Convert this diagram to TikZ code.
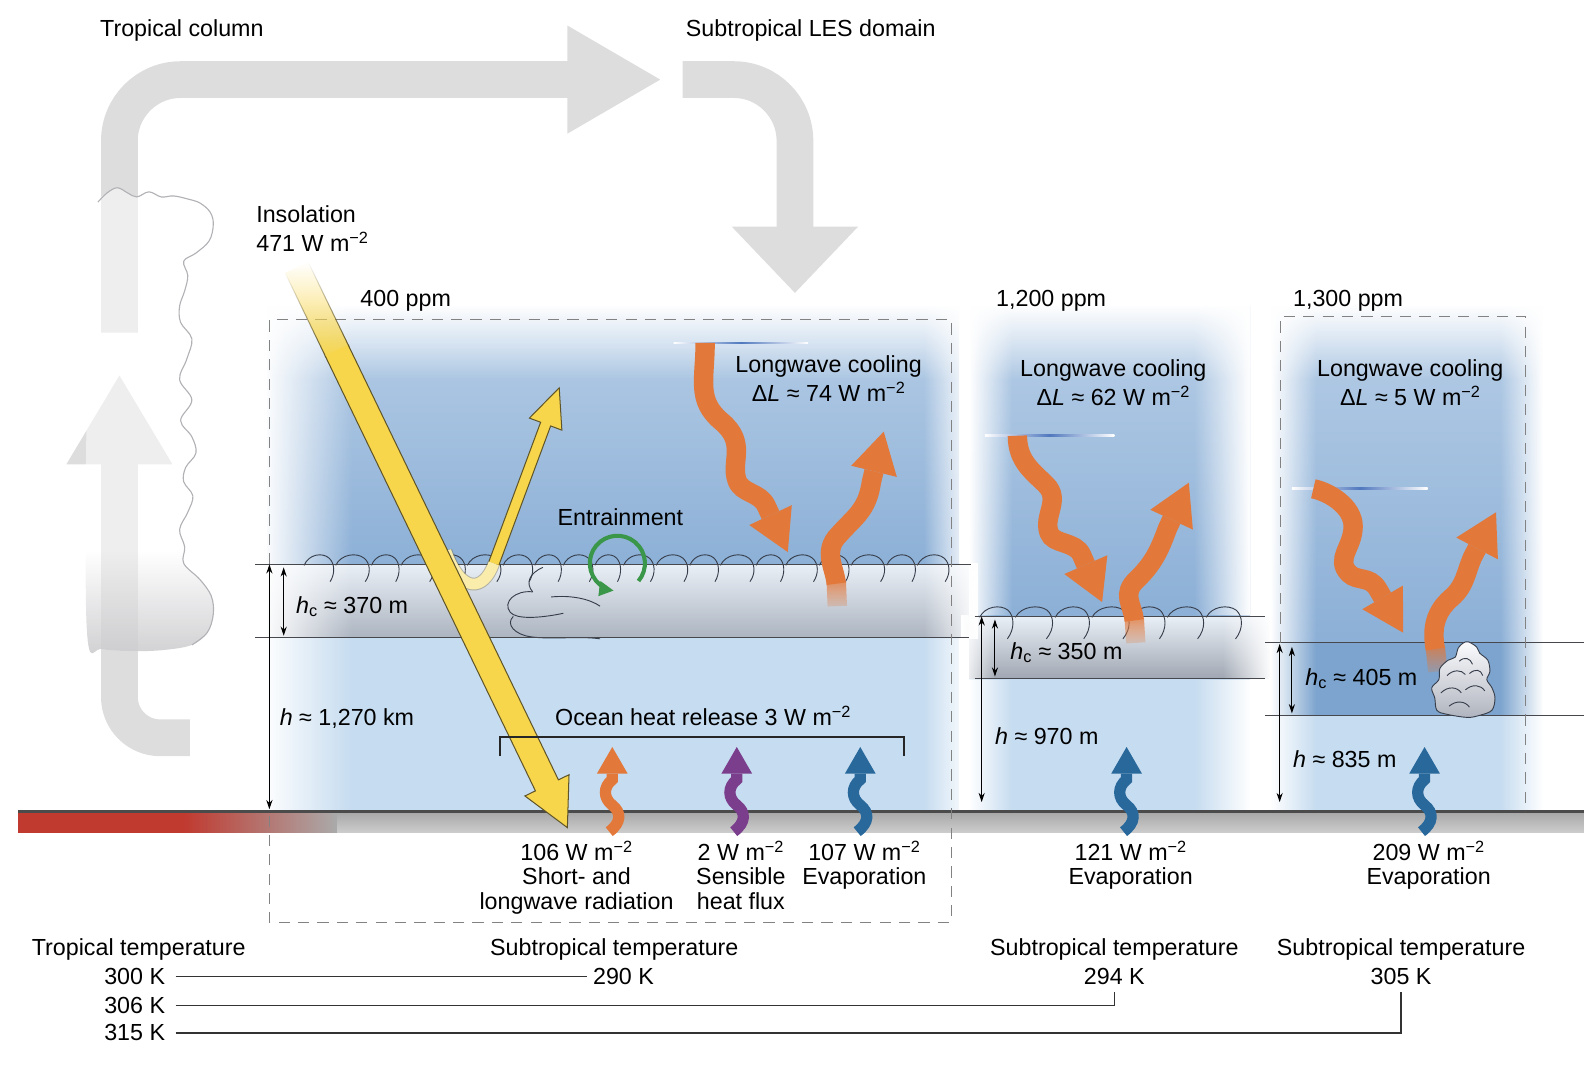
\documentclass[tikz,border=0pt]{standalone}
\usepackage{fontspec}
\setmainfont{Liberation Sans}
\usetikzlibrary{arrows.meta,fadings}

\definecolor{ctop}{RGB}{204,221,239}
\definecolor{cmid}{RGB}{118,160,206}
\definecolor{clow}{RGB}{198,220,240}
\definecolor{clay}{RGB}{124,164,206}
\definecolor{cltop}{RGB}{233,239,246}
\definecolor{clmid}{RGB}{221,228,237}
\definecolor{clbot}{RGB}{172,180,192}
\definecolor{clbotB}{RGB}{160,167,178}
\definecolor{lworange}{RGB}{226,120,58}
\definecolor{hfpurple}{RGB}{122,62,140}
\definecolor{evblue}{RGB}{40,104,155}
\definecolor{sunyel}{RGB}{248,214,76}
\definecolor{sunpale}{RGB}{250,236,170}
\definecolor{sunedge}{RGB}{95,85,40}
\definecolor{loopgray}{RGB}{221,221,221}
\definecolor{groundred}{RGB}{192,58,48}
\definecolor{groundA}{RGB}{170,170,170}
\definecolor{groundB}{RGB}{205,205,205}
\definecolor{groundline}{RGB}{75,75,75}
\definecolor{entgreen}{RGB}{58,150,72}
\definecolor{cloudline}{RGB}{55,62,75}
\definecolor{layergray}{RGB}{70,72,78}
\definecolor{dashgray}{RGB}{130,130,130}
\definecolor{toplineblue}{RGB}{80,120,190}
\definecolor{tcloudline}{RGB}{178,178,182}
\definecolor{tcloudshade}{RGB}{196,196,199}
\definecolor{cumtop}{RGB}{252,252,254}
\definecolor{cummid}{RGB}{226,230,236}
\definecolor{cumbot}{RGB}{175,180,190}

\tikzfading[name=fadeinR, left color=transparent!100, right color=transparent!0]
\tikzfading[name=fadeoutR, left color=transparent!0, right color=transparent!100]
\tikzfading[name=fadeoutD, top color=transparent!0, bottom color=transparent!100]
\tikzfading[name=fadeinD, top color=transparent!100, bottom color=transparent!0]

\newcommand{\Wmm}{W~m\textsuperscript{−2}}
\newcommand{\hcsub}{\textit{h}\textsubscript{c}}

\begin{document}
\begin{tikzpicture}[x=1pt,y=-1pt,
  txt/.style={font=\fontsize{22.8}{26}\selectfont, inner sep=0pt},
  lwarrow/.style={draw=lworange, line width=19pt, -{Triangle[width=46pt,length=40pt,line width=0pt]}},
  lwbase/.style={draw=lworange, line width=19pt, path fading=fadeoutD, fit fading=true},
  fluxarrow/.style={line width=11pt, -{Triangle[width=30pt,length=26pt,line width=0pt]}},
  harrow/.style={line width=1pt, {Stealth[length=9pt,width=6pt]}-{Stealth[length=9pt,width=6pt]}},
  boxdash/.style={draw=dashgray, line width=1.1pt, dash pattern=on 11pt off 8pt},
  layerline/.style={draw=layergray, line width=1.1pt},
  scallop/.style={draw=cloudline, line width=0.9pt},
  templine/.style={draw=black!80, line width=1.4pt},
  loopbar/.style={draw=loopgray, line width=36pt},
  fadeL/.style={path fading=fadeoutR, fit fading=true},
  fadeR/.style={path fading=fadeinR, fit fading=true},
  fadeT/.style={path fading=fadeoutD, fit fading=true},
  fadeB/.style={path fading=fadeinD, fit fading=true},
]
\useasboundingbox (0,0) rectangle (1564,1047);

% ---------------- columns ----------------
\begin{scope}\clip (262,300) rectangle (940,560);
  \shade[top color=ctop, bottom color=cmid] (262,170) rectangle (940,690);
\end{scope}
\fill[cmid] (262,553) rectangle (940,625);
\fill[clow] (262,625) rectangle (940,797);

\begin{scope}\clip (950,300) rectangle (1225,606);
  \shade[top color=ctop, bottom color=cmid] (950,147) rectangle (1225,759);
\end{scope}
\fill[cmid] (950,604) rectangle (1225,665);
\fill[clow] (950,665) rectangle (1225,797);

\begin{scope}\clip (1245,300) rectangle (1512,632);
  \shade[top color=ctop, bottom color=cmid] (1245,134) rectangle (1512,798);
\end{scope}
\fill[clay] (1245,630) rectangle (1512,701);
\fill[clow] (1245,701) rectangle (1512,797);

% ---------------- cloud bands ----------------
\shade[top color=cltop, middle color=clmid, bottom color=clbot] (262,553) rectangle (958,625);
\shade[top color=cltop, middle color=clmid, bottom color=clbotB] (950,604) rectangle (1244,665);

% edge fades (columns and cloud bands)
\fill[white, fadeL] (258,290) rectangle (345,800);
\fill[white, fadeR] (905,290) rectangle (950,552);
\fill[white, fadeR] (905,626) rectangle (950,800);
\fill[white, fadeR] (905,552) rectangle (958,626);
\fill[white, fadeT] (258,298) rectangle (950,372);
\fill[white, fadeL] (950,290) rectangle (992,603);
\fill[white, fadeL] (950,666) rectangle (992,800);
\fill[white, fadeL] (942,603) rectangle (976,666);
\fill[white, fadeR] (1170,290) rectangle (1225,603);
\fill[white, fadeR] (1170,666) rectangle (1225,800);
\fill[white, fadeR] (1198,603) rectangle (1246,666);
\fill[white, fadeT] (950,298) rectangle (1225,372);
\fill[white, fadeL] (1245,290) rectangle (1290,800);
\fill[white, fadeR] (1470,290) rectangle (1512,800);
\fill[white, fadeT] (1240,298) rectangle (1512,372);

% scallops
\foreach \x/\w in {298/30, 329/34, 364/28, 393/33, 427/30, 458/34, 493/30, 524/27, 552/30, 583/26, 611/31, 643/32, 676/29, 706/34, 741/28, 770/32, 803/30, 834/34, 869/29, 899/32}
  \draw[scallop] (\x,554) .. controls (\x+0.15*\w,543) and (\x+0.6*\w,541) .. (\x+0.82*\w,547) .. controls (\x+1.0*\w,552) and (\x+1.02*\w,562) .. (\x+0.85*\w,570);
\foreach \x/\w in {960/34, 995/38, 1034/35, 1070/38, 1109/34, 1144/37, 1182/36}
  \draw[scallop] (\x,605) .. controls (\x+0.15*\w,594) and (\x+0.6*\w,592) .. (\x+0.82*\w,598) .. controls (\x+1.0*\w,604) and (\x+1.02*\w,616) .. (\x+0.8*\w,626);
% interior lobes
\draw[scallop] (532,556) .. controls (518,562) and (515,572) .. (522,580);
\draw[scallop] (522,580) .. controls (505,578) and (492,590) .. (500,600) .. controls (506,607) and (528,606) .. (552,601);
\draw[scallop] (540,585) .. controls (560,583) and (578,587) .. (588,594);
\draw[scallop] (503,604) .. controls (495,612) and (505,622) .. (520,624) .. controls (542,627) and (566,623) .. (588,626);

% layer lines
\draw[layerline] (250,553) -- (952,553);
\draw[layerline] (250,625) -- (950,625);
\draw[layerline] (955,604) -- (1240,604);
\draw[layerline] (955,665) -- (1240,665);
\draw[layerline] (1240,630) -- (1552,630);
\draw[layerline] (1240,701) -- (1552,701);

% ---------------- ground ----------------
\shade[top color=groundA, bottom color=groundB] (18,797) rectangle (1552,816);
\fill[groundred] (18,797) rectangle (200,816);
\shade[left color=groundred, right color=groundA] (180,797) rectangle (330,816);
\draw[line width=3pt, groundline] (18,795) -- (1552,795);

% ---------------- big gray loop ----------------
\draw[loopbar, rounded corners=60pt] (117,326) -- (117,78) -- (557,78);
\fill[loopgray] (556,25) -- (647,78) -- (556,131) -- cycle;
\draw[loopbar, rounded corners=60pt] (669,78) -- (779,78) -- (779,223);
\fill[loopgray] (717,222) -- (841,222) -- (779,287) -- cycle;
\draw[loopbar, rounded corners=40pt] (186,723) -- (117,723) -- (117,454);
\fill[loopgray] (65,455) -- (169,455) -- (117,368) -- cycle;

% tropical cloud
\fill[white, opacity=0.5] plot[smooth cycle, tension=0.6] coordinates {(96,198) (105,189) (115,184) (125,189) (134,193) (146,188) (158,193) (170,192) (184,195) (196,199) (206,208) (209,220) (205,236) (192,248) (180,256) (184,270) (181,285) (176,300) (177,316) (188,332) (183,352) (176,372) (188,392) (177,412) (188,428) (192,444) (182,458) (180,472) (189,486) (184,502) (176,519) (181,536) (180,552) (196,568) (207,584) (209,602) (203,620) (188,632) (160,637) (130,638) (100,636) (86,628) (84,500) (86,350) (90,230)};
\begin{scope}
  \clip plot[smooth cycle, tension=0.6] coordinates {(96,198) (105,189) (115,184) (125,189) (134,193) (146,188) (158,193) (170,192) (184,195) (196,199) (206,208) (209,220) (205,236) (192,248) (180,256) (184,270) (181,285) (176,300) (177,316) (188,332) (183,352) (176,372) (188,392) (177,412) (188,428) (192,444) (182,458) (180,472) (189,486) (184,502) (176,519) (181,536) (180,552) (196,568) (207,584) (209,602) (203,620) (188,632) (160,637) (130,638) (100,636) (86,628) (84,500) (86,350) (90,230)};
  \fill[tcloudshade, opacity=0.8, fadeB] (80,540) rectangle (215,645);
\end{scope}
\draw[tcloudline, line width=1.1pt] plot[smooth, tension=0.6] coordinates {(96,198) (105,189) (115,184) (125,189) (134,193) (146,188) (158,193) (170,192) (184,195) (196,199) (206,208) (209,220) (205,236) (192,248) (180,256) (184,270) (181,285) (176,300) (177,316) (188,332) (183,352) (176,372) (188,392) (177,412) (188,428) (192,444) (182,458) (180,472) (189,486) (184,502) (176,519) (181,536) (180,552) (196,568) (207,584) (209,602) (203,620) (188,632)};

% ---------------- dashed boxes ----------------
\draw[boxdash] (264,553) -- (264,313) -- (932,313) -- (932,904) -- (264,904) -- (264,800);
\draw[boxdash] (1255,630) -- (1255,310) -- (1495,310) -- (1495,795);

% ---------------- top blue lines ----------------
\shade[left color=white, right color=white, middle color=toplineblue] (660,335.2) rectangle (792,336.8);
\shade[left color=white, right color=white, middle color=toplineblue] (965,426.2) rectangle (1092,427.8);
\shade[left color=white, right color=white, middle color=toplineblue] (1266,478.2) rectangle (1399,479.8);

% ---------------- longwave arrows ----------------
\draw[lwarrow] (691,336) .. controls (691,372) and (682,392) .. (707,413) .. controls (732,434) and (716,452) .. (722,470) .. controls (726,484) and (745,482) .. (751,496) -- (772,541);
\draw[lwbase] (820.5,594) -- (819.5,570);
\draw[lwarrow] (819.5,572) .. controls (818,556) and (806,540) .. (822,524) .. controls (838,506) and (850,500) .. (854,472) -- (866,423);

\draw[lwarrow] (997,427) .. controls (997,452) and (1012,462) .. (1025,475) .. controls (1040,490) and (1022,505) .. (1028,522) .. controls (1032,534) and (1054,530) .. (1060,544) -- (1080,590);
\draw[lwbase] (1113,630) -- (1111.5,606);
\draw[lwarrow] (1111.5,608) .. controls (1110,592) and (1098,582) .. (1115,567) .. controls (1130,552) and (1136,540) .. (1144,518) -- (1165,473);

\draw[lwarrow] (1287,479) .. controls (1302,482) and (1326,496) .. (1326,516) .. controls (1326,536) and (1308,548) .. (1322,562) .. controls (1330,570) and (1342,564) .. (1350,577) -- (1375,620);
\draw[lwbase] (1409,658) -- (1406.5,634);
\draw[lwarrow] (1406.5,636) .. controls (1403,616) and (1406,600) .. (1422,586) .. controls (1436,574) and (1436,562) .. (1443,546) -- (1466,502);

% cumulus
\shade[top color=cumtop, middle color=cummid, bottom color=cumbot, draw=cloudline, line width=0.9pt] plot[smooth cycle, tension=0.55] coordinates {(1439,629) (1447,634) (1450,640) (1458,647) (1460,658) (1457,666) (1462,674) (1465,684) (1462,696) (1450,701) (1438,703) (1418,700) (1408,696) (1406,684) (1403,674) (1410,666) (1411,655) (1419,647) (1426,644) (1429,635) (1434,630)};
\draw[scallop] (1418,662) .. controls (1424,656) and (1432,656) .. (1436,661);
\draw[scallop] (1430,648) .. controls (1435,643) and (1441,645) .. (1443,651);
\draw[scallop] (1440,660) .. controls (1446,655) and (1451,656) .. (1453,662);
\draw[scallop] (1412,679) .. controls (1419,672) and (1428,673) .. (1432,679);
\draw[scallop] (1436,676) .. controls (1443,670) and (1451,671) .. (1455,677);
\draw[scallop] (1420,692) .. controls (1427,686) and (1436,687) .. (1440,693);

% ---------------- reflected sunlight ----------------
\draw[line width=12.5pt, sunedge, opacity=0.35] (437,540) .. controls (452,582) and (474,580) .. (484,552);
\draw[line width=10.5pt, sunpale] (437,540) .. controls (452,582) and (474,580) .. (484,552);
\fill[sunyel] (479.1,550.2) -- (529.8,413.8) -- (518.8,409.7) -- (548,380) -- (550.6,421.5) -- (539.6,417.4) -- (488.9,553.8) -- cycle;
\draw[sunedge, line width=1pt, line join=miter] (479.1,550.2) -- (529.8,413.8) -- (518.8,409.7) -- (548,380) -- (550.6,421.5) -- (539.6,417.4) -- (488.9,553.8);

% ---------------- insolation beam ----------------
\fill[sunyel, fadeB] (279.4,267.4) -- (301.9,256.6) -- (342.0,339.6) -- (319.5,350.4) -- cycle;
\draw[sunedge, line width=1pt, fadeB] (279.4,267.4) -- (319.5,350.4);
\draw[sunedge, line width=1pt, fadeB] (301.9,256.6) -- (342.0,339.6);
\fill[sunyel] (318.6,348.6) -- (341.1,337.8) -- (547.2,764.2) -- (557.6,759.2) -- (556,811) -- (514.4,780.0) -- (524.7,775.0) -- cycle;
\draw[sunedge, line width=1pt, line join=miter] (341.1,337.8) -- (547.2,764.2) -- (557.6,759.2) -- (556,811) -- (514.4,780.0) -- (524.7,775.0) -- (318.6,348.6);

% ---------------- entrainment ----------------
\draw[entgreen, line width=4pt, -{Triangle[width=15pt,length=14pt,line width=0pt]}] (605,552) ++(40:27) arc[start angle=40, end angle=-262, radius=27];

% ---------------- surface fluxes ----------------
\foreach \xx/\cc in {600/lworange, 722/hfpurple, 843/evblue, 1104/evblue, 1396/evblue}
  \draw[fluxarrow, draw=\cc] (\xx-3,815) .. controls (\xx+9,806) and (\xx+9,796) .. (\xx,789) .. controls (\xx-9,782) and (\xx-9,771) .. (\xx,764) -- (\xx,732);

% ---------------- height arrows ----------------
\coordinate (hAt) at (264,553); \coordinate (hAb) at (264,793);
\coordinate (hcAt) at (278,556); \coordinate (hcAb) at (278,623);
\coordinate (hBt) at (962,604); \coordinate (hBb) at (962,786);
\coordinate (hcBt) at (975,607); \coordinate (hcBb) at (975,663);
\coordinate (hCt) at (1254,631); \coordinate (hCb) at (1254,786);
\coordinate (hcCt) at (1266,634); \coordinate (hcCb) at (1266,699);
\draw[harrow] (hAt) -- (hAb);
\draw[harrow] (hcAt) -- (hcAb);
\draw[harrow] (hBt) -- (hBb);
\draw[harrow] (hcBt) -- (hcBb);
\draw[harrow] (hCt) -- (hCb);
\draw[harrow] (hcCt) -- (hcCb);

% ocean bracket
\coordinate (ob1) at (490,741); \coordinate (ob2) at (490,722);
\coordinate (ob3) at (886,722); \coordinate (ob4) at (886,741);
\draw[line width=2pt, black!85] (ob1) -- (ob2) -- (ob3) -- (ob4);

% ---------------- texts ----------------
\node[txt, anchor=base west] (tropcol) at (98,36) {Tropical column};
\node[txt, anchor=base west] (lesdom) at (672,36) {Subtropical LES domain};
\node[txt, anchor=base west] (insA) at (251,218) {Insolation};
\node[txt, anchor=base west] (insB) at (251,246) {471 \Wmm};
\node[txt, anchor=base west] (ppmA) at (353,300) {400 ppm};
\node[txt, anchor=base west] (ppmB) at (976,300) {1,200 ppm};
\node[txt, anchor=base west] (ppmC) at (1267,300) {1,300 ppm};
\node[txt, anchor=base] (lwAa) at (812,365) {Longwave cooling};
\node[txt, anchor=base] (lwAb) at (812,393) {Δ\textit{L} ≈ 74 \Wmm};
\node[txt, anchor=base] (lwBa) at (1091,369) {Longwave cooling};
\node[txt, anchor=base] (lwBb) at (1091,397) {Δ\textit{L} ≈ 62 \Wmm};
\node[txt, anchor=base] (lwCa) at (1382,369) {Longwave cooling};
\node[txt, anchor=base] (lwCb) at (1382,397) {Δ\textit{L} ≈ 5 \Wmm};
\node[txt, anchor=base] (entr) at (608,515) {Entrainment};
\node[txt, anchor=base west] (hcA) at (290,601) {\hcsub{} ≈ 370 m};
\node[txt, anchor=base west] (hA) at (274,711) {\textit{h} ≈ 1,270 km};
\node[txt, anchor=base] (ocean) at (689,711) {Ocean heat release 3 \Wmm};
\node[txt, anchor=base west] (hcB) at (990,646) {\hcsub{} ≈ 350 m};
\node[txt, anchor=base west] (hB) at (975,730) {\textit{h} ≈ 970 m};
\node[txt, anchor=base west] (hcC) at (1279,672) {\hcsub{} ≈ 405 m};
\node[txt, anchor=base west] (hC) at (1267,752) {\textit{h} ≈ 835 m};

\node[txt, anchor=base] (fA1) at (565,843) {106 \Wmm};
\node[txt, anchor=base] (fA2) at (565,867) {Short- and};
\node[txt, anchor=base] (fA3) at (565,891) {longwave radiation};
\node[txt, anchor=base] (fB1) at (726,843) {2 \Wmm};
\node[txt, anchor=base] (fB2) at (726,867) {Sensible};
\node[txt, anchor=base] (fB3) at (726,891) {heat flux};
\node[txt, anchor=base] (fC1) at (847,843) {107 \Wmm};
\node[txt, anchor=base] (fC2) at (847,867) {Evaporation};
\node[txt, anchor=base] (fD1) at (1108,843) {121 \Wmm};
\node[txt, anchor=base] (fD2) at (1108,867) {Evaporation};
\node[txt, anchor=base] (fE1) at (1400,843) {209 \Wmm};
\node[txt, anchor=base] (fE2) at (1400,867) {Evaporation};

\node[txt, anchor=base west] (troptemp) at (31,936) {Tropical temperature};
\node[txt, anchor=base] (stA) at (602,936) {Subtropical temperature};
\node[txt, anchor=base] (stB) at (1092,936) {Subtropical temperature};
\node[txt, anchor=base] (stC) at (1373,936) {Subtropical temperature};
\node[txt, anchor=base east] (t300) at (162,965) {300 K};
\node[txt, anchor=base west] (t290) at (581,965) {290 K};
\node[txt, anchor=base east] (t306) at (162,993) {306 K};
\node[txt, anchor=base east] (t315) at (162,1020) {315 K};
\node[txt, anchor=base] (t294) at (1092,965) {294 K};
\node[txt, anchor=base] (t305) at (1373,965) {305 K};

\draw[templine, shorten <=10pt, shorten >=6pt] (t300.east) -- (t290.west);
\draw[templine, shorten <=10pt, shorten >=7pt] (t306.east) -| (t294.south);
\draw[templine, shorten <=10pt, shorten >=7pt] (t315.east) -| (t305.south);
\end{tikzpicture}
\end{document}
